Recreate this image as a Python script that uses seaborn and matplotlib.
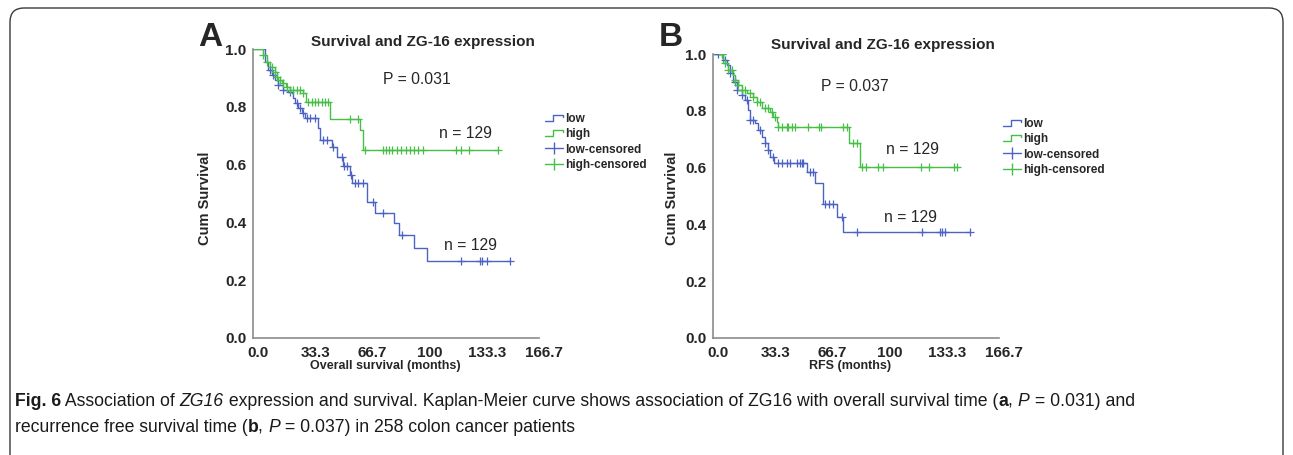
import numpy as np
import pandas as pd
import matplotlib
matplotlib.use('Agg')
import matplotlib.pyplot as plt
import matplotlib.transforms as mtransforms
import seaborn as sns
from matplotlib.lines import Line2D
from matplotlib.legend_handler import HandlerBase
from matplotlib.patches import FancyBboxPatch

# Kaplan-Meier step curves (months, cumulative survival)
os_low_t = [0, 6.8, 8.7, 10.7, 12.6, 14.6, 17.5, 20.4, 22.4, 23.3, 24.3, 26.2, 28.2, 30.0,
            37.9, 38.9, 45.7, 49.0, 52.4, 56.4, 57.5, 66.1, 70.9, 82.2, 85.0, 93.6, 101.4, 149.6]
os_low_s = [1.0, 0.957, 0.928, 0.910, 0.894, 0.876, 0.859, 0.853, 0.847, 0.830, 0.813, 0.795, 0.778, 0.761,
            0.726, 0.686, 0.662, 0.628, 0.596, 0.564, 0.537, 0.472, 0.433, 0.397, 0.356, 0.312, 0.267, 0.267]
os_low_cens = [9.7, 11.7, 14.6, 17.5, 21.4, 25.3, 27.2, 29.1, 31.1, 33.0, 36.0, 40.8, 42.8, 46.6,
               51.5, 52.9, 54.4, 56.8, 59.3, 61.2, 64.1, 70.0, 75.4, 86.5, 121.4, 132.1, 133.7, 136.6, 149.6]

os_high_t = [0, 5.8, 7.8, 9.7, 12.6, 13.6, 14.6, 16.5, 19.0, 21.4, 29.1, 31.0, 44.7, 62.2, 63.8, 142.8]
os_high_s = [1.0, 0.980, 0.957, 0.940, 0.922, 0.905, 0.894, 0.882, 0.870, 0.859, 0.847, 0.818, 0.757,
             0.720, 0.651, 0.651]
os_high_cens = [5.8, 7.8, 10.7, 12.6, 14.0, 15.6, 17.5, 19.5, 21.4, 23.3, 25.3, 27.2, 29.1, 32.1, 34.0,
                36.0, 37.9, 39.9, 41.8, 43.7, 56.4, 61.2, 65.1, 75.8, 77.7, 79.3, 80.7, 83.6, 86.1, 89.0,
                91.3, 93.6, 96.1, 99.0, 118.5, 121.0, 125.9, 142.8]

rfs_low_t = [0, 5.7, 8.0, 9.7, 11.7, 13.6, 16.6, 18.5, 20.4, 21.4, 24.3, 26.3, 28.2, 30.2, 32.1, 33.1,
             35.5, 54.5, 59.3, 63.8, 72.3, 75.5, 149.8]
rfs_low_s = [1.0, 0.980, 0.962, 0.933, 0.903, 0.874, 0.856, 0.839, 0.804, 0.768, 0.757, 0.733, 0.709,
             0.686, 0.662, 0.639, 0.615, 0.586, 0.547, 0.472, 0.425, 0.372, 0.372]
rfs_low_cens = [2.9, 4.9, 6.8, 9.7, 12.7, 14.0, 16.6, 19.5, 21.4, 23.3, 27.2, 30.2, 32.1, 35.0, 37.9,
                39.9, 42.8, 44.7, 48.7, 50.6, 51.6, 52.5, 56.4, 58.3, 65.2, 67.7, 70.0, 74.9, 84.0,
                121.6, 132.3, 133.6, 135.2, 149.8]

rfs_high_t = [0, 5.8, 8.8, 11.7, 12.7, 14.6, 16.6, 19.5, 23.3, 25.3, 28.2, 33.1, 35.0, 37.0, 37.9,
              79.2, 85.4, 143.0]
rfs_high_s = [1.0, 0.968, 0.945, 0.927, 0.909, 0.892, 0.874, 0.862, 0.850, 0.833, 0.809, 0.797, 0.780,
              0.762, 0.742, 0.686, 0.603, 0.603]
rfs_high_cens = [4.9, 6.8, 8.8, 10.7, 12.7, 14.6, 16.6, 18.5, 21.4, 23.3, 25.3, 27.2, 30.2, 32.1, 34.1,
                 36.0, 37.9, 39.9, 42.8, 43.8, 45.7, 47.7, 55.4, 61.8, 62.8, 75.8, 77.8, 81.7, 83.7,
                 86.6, 89.1, 96.3, 99.2, 121.0, 125.8, 140.4, 142.0]

x_ticks = [0, 33.3, 66.7, 100, 133.3, 166.7]
x_tick_labels = ['0.0', '33.3', '66.7', '100', '133.3', '166.7']
y_ticks = [0.0, 0.2, 0.4, 0.6, 0.8, 1.0]
groups = ['low', 'high']
legend_labels = ['low', 'high', 'low-censored', 'high-censored']

BLUE = '#4d63c4'
GREEN = '#45bf45'
AXIS_GREY = '#8c8c8c'

sns.set_theme(style='white')
plt.rcParams['font.family'] = ['Liberation Sans', 'DejaVu Sans']

W, H = 1293, 455
fig = plt.figure(figsize=(W / 100, H / 100), dpi=100)


def px(x, y):
    # pixel position in the picture -> figure fraction
    return x / W, 1 - y / H


class StepHandler(HandlerBase):
    def create_artists(self, legend, orig_handle, xdescent, ydescent, width, height, fontsize, trans):
        lo, hi = -ydescent + 0.1 * height, -ydescent + 0.85 * height
        xs = [-xdescent, -xdescent + 0.45 * width, -xdescent + 0.45 * width, -xdescent + width,
              -xdescent + width]
        ys = [lo, lo, hi, hi, 0.6 * height - ydescent]
        line = Line2D(xs, ys, color=orig_handle.get_color(), lw=1.0, transform=trans)
        return [line]


def censored_points(t, s, cens):
    idx = np.searchsorted(np.array(t), np.array(cens), side='right') - 1
    return np.array(s)[idx]


def km_panel(rect, curves, title_xy, letter, letter_xy, p_text, p_xy, n_xys, xlabel, xlabel_xy,
             ylabel_xy, legend_xy):
    ax = fig.add_axes(rect)
    for (t, s, cens), color, name in zip(curves, [BLUE, GREEN], groups):
        df = pd.DataFrame({'time': t, 'surv': s})
        sns.lineplot(data=df, x='time', y='surv', drawstyle='steps-post', color=color,
                     lw=1.0, estimator=None, sort=False, ax=ax)
        cdf = pd.DataFrame({'time': cens, 'surv': censored_points(t, s, cens)})
        sns.scatterplot(data=cdf, x='time', y='surv', marker='+', s=28, linewidth=0.9,
                        color=color, ax=ax, zorder=3)

    ax.set_xlim(0, 166.7)
    ax.set_ylim(0, 1.0)
    ax.set_xticks(x_ticks)
    ax.set_xticklabels(x_tick_labels)
    ax.set_yticks(y_ticks)
    ax.set_yticklabels([f'{v:.1f}' for v in y_ticks])
    ax.set_xlabel('')
    ax.set_ylabel('')
    for side in ['top', 'right']:
        ax.spines[side].set_visible(False)
    for side in ['left', 'bottom']:
        ax.spines[side].set_color(AXIS_GREY)
        ax.spines[side].set_linewidth(1.2)
    ax.tick_params(axis='both', which='major', direction='out', length=4, width=1,
                   color=AXIS_GREY, pad=1, labelsize=11)
    ax.tick_params(axis='x', pad=2)
    # SPSS puts the x tick labels a little to the right of the ticks
    shift = mtransforms.ScaledTranslation(5 / 100, 0, fig.dpi_scale_trans)
    for lab in ax.get_xticklabels():
        lab.set_transform(lab.get_transform() + shift)
    for lab in ax.get_xticklabels() + ax.get_yticklabels():
        lab.set_fontweight('bold')
    ax.margins(0)

    fig.text(*px(*title_xy), 'Survival and ZG-16 expression', ha='center', va='center',
             fontsize=11, fontweight='bold')
    fig.text(*px(*letter_xy), letter, ha='center', va='center', fontsize=24, fontweight='bold')
    fig.text(*px(*p_xy), p_text, ha='center', va='center', fontsize=11.3)
    for nxy in n_xys:
        fig.text(*px(*nxy), 'n = 129', ha='center', va='center', fontsize=11.3)
    fig.text(*px(*xlabel_xy), xlabel, ha='center', va='center', fontsize=9, fontweight='bold')
    fig.text(*px(*ylabel_xy), 'Cum Survival', ha='center', va='center', rotation=90,
             fontsize=10.5, fontweight='bold')

    handles = [Line2D([], [], color=BLUE), Line2D([], [], color=GREEN),
               Line2D([], [], color=BLUE, marker='|', markersize=8, lw=1.0),
               Line2D([], [], color=GREEN, marker='|', markersize=8, lw=1.0)]
    step_map = {handles[0]: StepHandler(), handles[1]: StepHandler()}
    ax.legend(handles, legend_labels, handler_map=step_map, loc='upper left',
              bbox_to_anchor=px(*legend_xy), bbox_transform=fig.transFigure, frameon=False,
              handlelength=1.5, handletextpad=0.2, labelspacing=0.28, borderpad=0,
              borderaxespad=0, prop={'size': 8.5, 'weight': 'bold'})
    return ax


km_panel([253.3 / W, 1 - 337.7 / H, 285.7 / W, 288.4 / H],
         [(os_low_t, os_low_s, os_low_cens), (os_high_t, os_high_s, os_high_cens)],
         (422.5, 42), 'A', (210, 37.5), 'P = 0.031', (417, 80), [(466, 133), (471, 245)],
         'Overall survival (months)', (385, 366), (205, 198), (545, 113))

km_panel([713.3 / W, 1 - 337.7 / H, 285.7 / W, 283.4 / H],
         [(rfs_low_t, rfs_low_s, rfs_low_cens), (rfs_high_t, rfs_high_s, rfs_high_cens)],
         (882.5, 45), 'B', (671, 38), 'P = 0.037', (855, 86.7), [(912, 150), (910, 217)],
         'RFS (months)', (850, 366), (672, 198), (1003, 118))

# rounded frame around figure and caption
frame = FancyBboxPatch((10 / 100, -1.0), 1273 / 100, (H - 8) / 100 + 1.0,
                       boxstyle='round,pad=0,rounding_size=0.14', transform=fig.dpi_scale_trans,
                       fill=False, ec='#3a3a3a', lw=1.0, clip_on=False)
fig.add_artist(frame)

# caption with mixed styles
cap_font = ['Liberation Sans Narrow', 'Liberation Sans']
cap_size = 12.7
caption_lines = [
    [('Fig. 6', 'bold', 'normal'), (' Association of ', 'normal', 'normal'), ('ZG16', 'normal', 'italic'),
     (' expression and survival. Kaplan-Meier curve shows association of ZG16 with overall survival time (',
      'normal', 'normal'),
     ('a', 'bold', 'normal'), (', ', 'normal', 'normal'), ('P', 'normal', 'italic'),
     (' = 0.031) and', 'normal', 'normal')],
    [('recurrence free survival time (', 'normal', 'normal'), ('b', 'bold', 'normal'),
     (', ', 'normal', 'normal'), ('P', 'normal', 'italic'),
     (' = 0.037) in 258 colon cancer patients', 'normal', 'normal')],
]
renderer = fig.canvas.get_renderer()
for line, y in zip(caption_lines, [401, 427]):
    x = 15
    for text, weight, style in line:
        t = fig.text(*px(x, y), text, ha='left', va='center', fontsize=cap_size, fontweight=weight,
                     fontstyle=style, family=cap_font, color='#1a1a1a')
        bb = t.get_window_extent(renderer=renderer)
        x += bb.width

fig.savefig('out.png', dpi=100)
